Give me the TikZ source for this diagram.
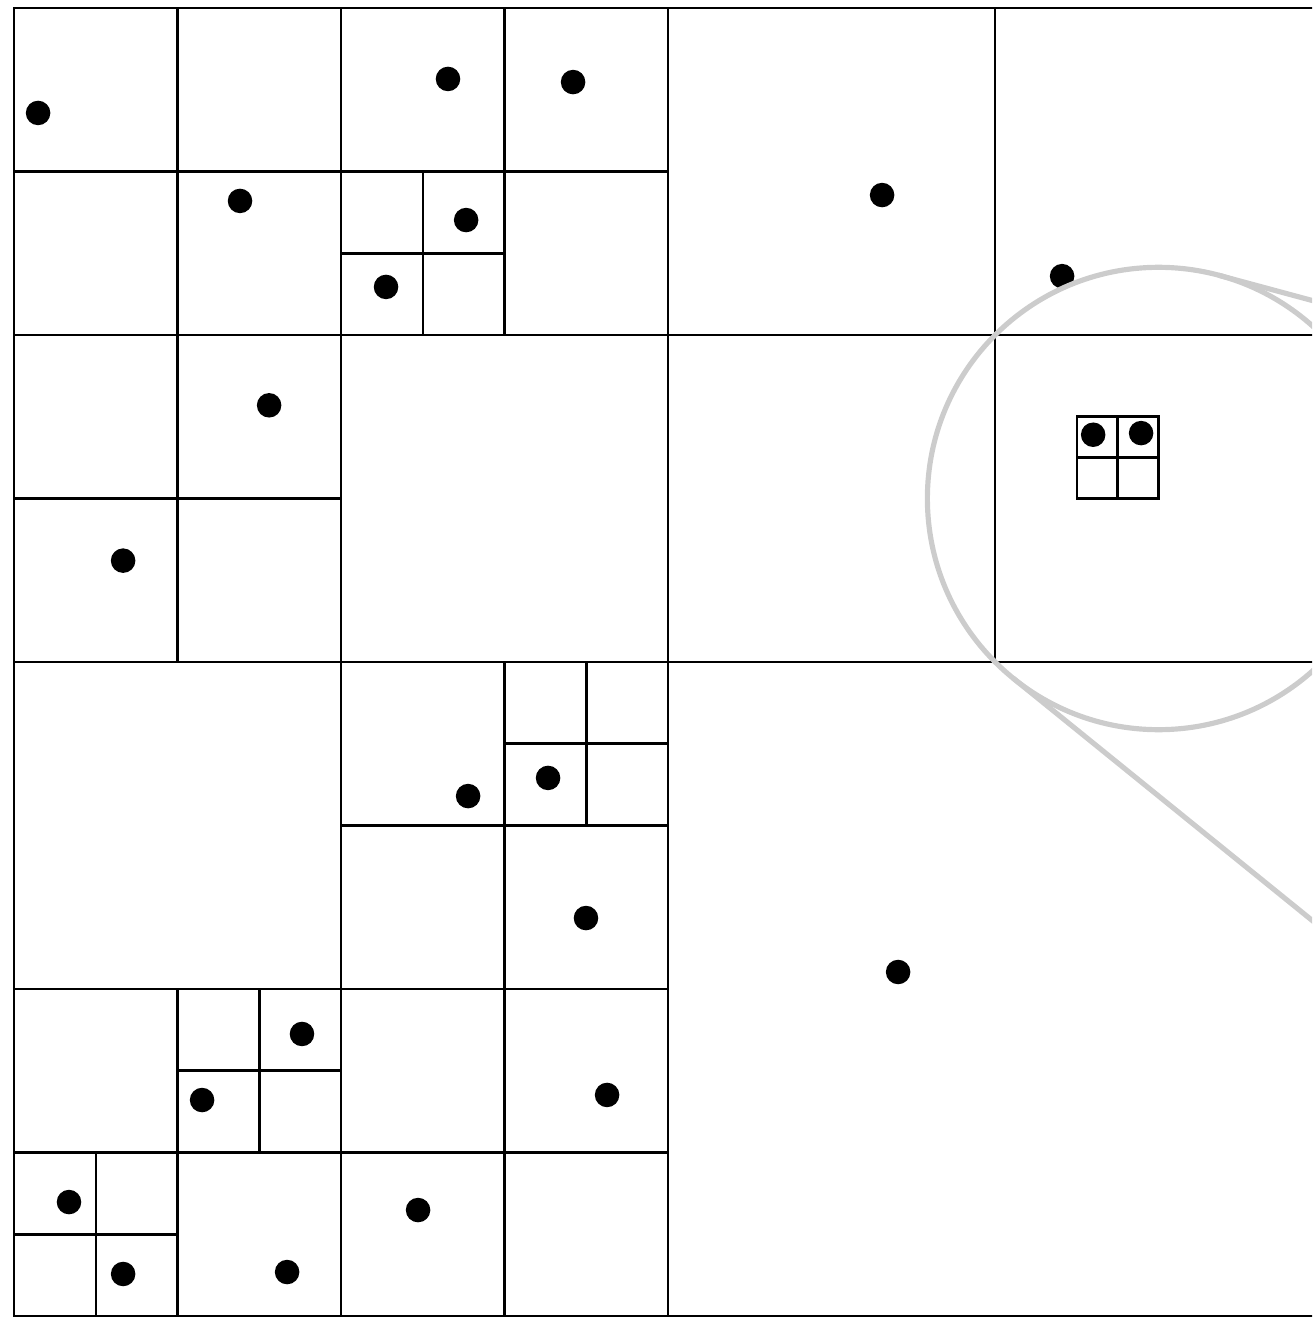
\documentclass[tikz,border=0pt]{standalone}
\usepackage{tikz}

\begin{document}
\begin{tikzpicture}[
    cell/.style={draw=black, line width=0.45pt},
    datapt/.style={circle, fill=black, inner sep=0pt, minimum size=1.5mm},
    magnifier/.style={draw=black!20, line width=0.9pt}
  ]
    \clip (-0.086,-0.006) rectangle (7.939,8.049);
    % quadtree cells
    \draw[cell] (0,0) rectangle (8,8);
    \foreach \x/\y/\s in {0/0/8, 0/4/4, 4/4/4, 0/0/4, 0/6/2, 2/6/2, 2/6/1,
        0/4/2, 2/2/2, 3/3/1, 0/0/2, 1/1/1, 0/0/1, 2/0/2, 6.5/5/0.5}
      \draw[cell] (\x+\s/2,\y) -- ++(0,\s) (\x,\y+\s/2) -- ++(\s,0);
    \draw[cell] (6.5,5) rectangle (7,5.5);
    % points
    \foreach \x/\y [count=\i] in {0.147/7.358, 1.382/6.820, 2.654/7.566,
        3.419/7.547, 2.765/6.703, 2.275/6.294, 1.560/5.570, 0.667/4.620,
        5.309/6.856, 6.410/6.360, 6.600/5.390, 6.893/5.400, 2.777/3.180,
        3.266/3.291, 3.498/2.434, 1.761/1.725, 1.150/1.321, 0.336/0.697,
        0.667/0.257, 1.670/0.269, 3.627/1.352, 2.471/0.648, 5.407/2.104}
      \node[datapt] (p\i) at (\x,\y) {};
    % zoom lens
    \coordinate (focus) at (7,5);
    \draw[magnifier] (focus) circle (1.414);
    \draw[magnifier] (focus) ++(75:1.414) -- ++(0.934,-0.252);
    \draw[magnifier] (focus) ++(231:1.414) -- ++(2.19,-1.774);
\end{tikzpicture}
\end{document}
